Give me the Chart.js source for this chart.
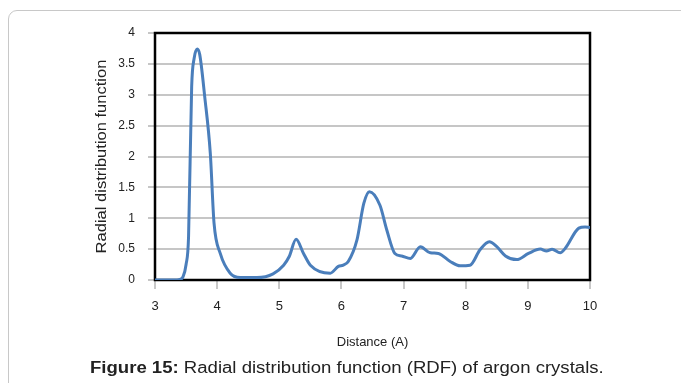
<!DOCTYPE html>
<html>
<head>
<meta charset="utf-8">
<script src="https://cdn.jsdelivr.net/npm/chart.js@4"></script>
<style>
  body { margin: 0; background: #fff; width: 681px; height: 383px; overflow: hidden; position: relative; font-family: "Liberation Sans", Arial, sans-serif; }
  #frame { position: absolute; left: 8px; top: 10px; width: 720px; height: 420px; border: 1px solid #c8c8c8; border-radius: 9px; }
  #wrap { position: absolute; left: 0; top: 0; width: 681px; height: 383px; }
  #caption { position: absolute; left: 90px; top: 359px; font-size: 16px; color: #222; white-space: nowrap; transform: scaleX(1.16); transform-origin: left center; }
</style>
</head>
<body>
<div id="frame"></div>
<div id="wrap"><canvas id="myChart" width="681" height="383"></canvas></div>
<div id="caption"><b>Figure 15:</b> Radial distribution function (RDF) of argon crystals.</div>
<script>
const distances = [3.0, 3.3, 3.4, 3.45, 3.5, 3.54, 3.59, 3.63, 3.68, 3.72, 3.8, 3.89, 3.95, 4.05, 4.21, 4.37, 4.64, 4.9, 5.07, 5.16, 5.27, 5.39, 5.5, 5.82, 5.95, 6.03, 6.11, 6.25, 6.36, 6.45, 6.62, 6.73, 6.86, 6.97, 7.11, 7.27, 7.43, 7.56, 7.75, 7.91, 8.07, 8.23, 8.38, 8.5, 8.64, 8.82, 9.01, 9.2, 9.3, 9.39, 9.52, 9.6, 9.82, 9.92, 10.0];
const rdfValues = [0, 0, 0.01, 0.05, 0.25, 0.7, 3.13, 3.59, 3.74, 3.65, 2.97, 2.05, 0.92, 0.43, 0.11, 0.04, 0.04, 0.1, 0.24, 0.38, 0.66, 0.43, 0.24, 0.11, 0.22, 0.24, 0.3, 0.65, 1.24, 1.43, 1.21, 0.81, 0.43, 0.39, 0.35, 0.54, 0.44, 0.43, 0.3, 0.23, 0.24, 0.49, 0.62, 0.54, 0.39, 0.33, 0.43, 0.5, 0.47, 0.5, 0.44, 0.51, 0.84, 0.86, 0.85];
const xTicks = [3, 4, 5, 6, 7, 8, 9, 10];
const yTicks = [0, 0.5, 1, 1.5, 2, 2.5, 3, 3.5, 4];
const yTitle = "Radial distribution function";

const points = distances.map((d, i) => ({ x: d, y: rdfValues[i] }));

// black frame around the plot area + stretched y title
const plotBox = {
  id: "plotBox",
  beforeDatasetsDraw(chart) {
    const a = chart.chartArea;
    const ctx = chart.ctx;
    ctx.save();
    ctx.strokeStyle = "#000";
    ctx.lineWidth = 2.5;
    ctx.strokeRect(a.left, a.top, a.right - a.left, a.bottom - a.top);
    ctx.restore();

    ctx.save();
    ctx.translate(102, (a.top + a.bottom) / 2);
    ctx.rotate(-Math.PI / 2);
    ctx.scale(1.18, 1);
    ctx.font = "14px 'Liberation Sans'";
    ctx.fillStyle = "#222";
    ctx.textAlign = "center";
    ctx.textBaseline = "middle";
    ctx.fillText(yTitle, 0, 0);
    ctx.restore();
  },
};

const ctx = document.getElementById("myChart");

new Chart(ctx, {
  type: "line",
  data: {
    datasets: [
      {
        data: points,
        borderColor: "#4a7ebb",
        borderWidth: 3,
        pointRadius: 0,
        cubicInterpolationMode: "monotone",
        fill: false,
      },
    ],
  },
  options: {
    responsive: false,
    animation: false,
    layout: { padding: { left: 94, top: 33, right: 91, bottom: 33 } },
    plugins: { legend: { display: false }, tooltip: { enabled: false } },
    scales: {
      x: {
        type: "linear",
        min: 3,
        max: 10,
        afterBuildTicks: (scale) => { scale.ticks = xTicks.map((v) => ({ value: v })); },
        afterFit: (scale) => { scale.height = 70; },
        grid: { drawOnChartArea: false, drawTicks: true, tickLength: 9, color: "#c8c8c8", lineWidth: 2 },
        border: { display: false },
        ticks: { color: "#222", font: { family: "Liberation Sans", size: 13 }, padding: 10, maxRotation: 0 },
        title: { display: true, text: "Distance (A)", color: "#222", font: { family: "Liberation Sans", size: 13 }, padding: 0 },
      },
      y: {
        min: 0,
        max: 4,
        afterBuildTicks: (scale) => { scale.ticks = yTicks.map((v) => ({ value: v })); },
        afterFit: (scale) => { scale.width = 61; },
        grid: { color: "#c6c6c6", lineWidth: 2, tickLength: 7 },
        border: { display: false },
        ticks: { color: "#222", font: { family: "Liberation Sans", size: 12 }, padding: 13, callback: (v) => String(v) },
        title: { display: false },
      },
    },
  },
  plugins: [plotBox],
});
</script>
</body>
</html>
